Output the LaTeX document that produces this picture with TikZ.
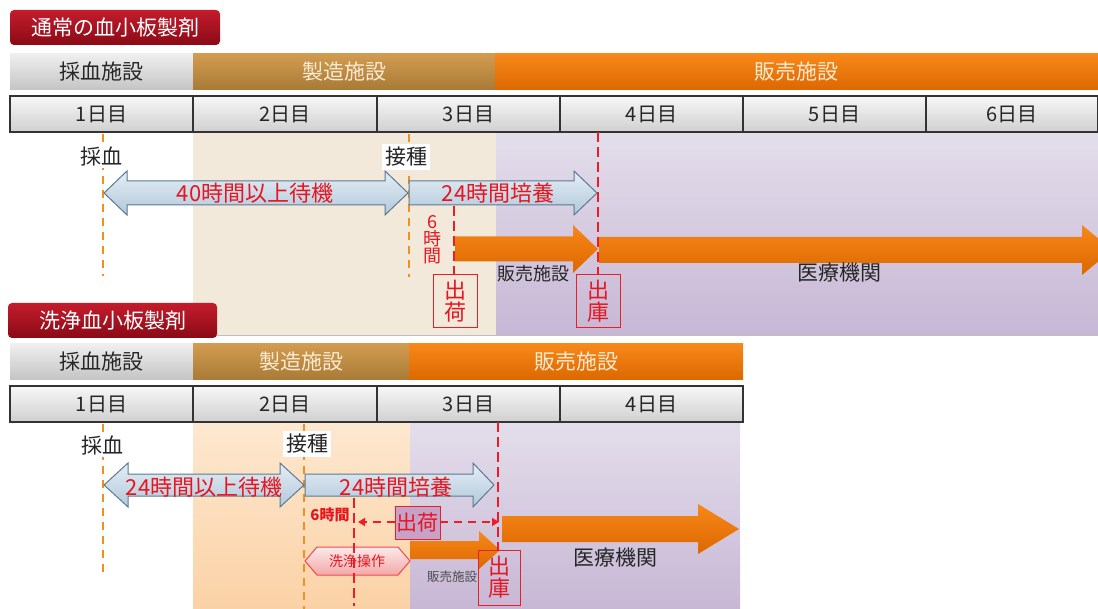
\documentclass[tikz,border=0pt]{standalone}
\usepackage{fontspec}
\setmainfont{Noto Sans CJK JP}
\usetikzlibrary{arrows.meta}
\definecolor{tred}{HTML}{E8141E}
\definecolor{dred}{HTML}{EE1C24}
\definecolor{odash}{HTML}{F0901E}
\definecolor{beigebg}{HTML}{F3E9DA}
\definecolor{peachT}{HTML}{FDE8D0}
\definecolor{peachB}{HTML}{FBD2A6}
\definecolor{purT}{HTML}{E4DEEB}
\definecolor{purB}{HTML}{C7B7D5}
\definecolor{blueT}{HTML}{E4EEF6}
\definecolor{blueB}{HTML}{B2C8DA}
\definecolor{blueE}{HTML}{5B7A92}
\definecolor{orT}{HTML}{F8881A}
\definecolor{orB}{HTML}{DC6800}
\definecolor{goldT}{HTML}{D29C50}
\definecolor{goldB}{HTML}{A87A36}
\definecolor{grayT}{HTML}{EFEFEF}
\definecolor{grayB}{HTML}{C4C4C4}
\definecolor{dayT}{HTML}{F7F7F7}
\definecolor{dayB}{HTML}{D0D0D0}
\definecolor{titT}{HTML}{C41C2C}
\definecolor{titB}{HTML}{8A0A16}
\definecolor{pinkT}{HTML}{FDEAEA}
\definecolor{pinkB}{HTML}{F2A8A8}
\definecolor{mauve}{HTML}{C6A2C8}
\definecolor{cream}{HTML}{FBEBD3}
\definecolor{ink}{HTML}{262626}
\newcommand\fs[1]{\fontsize{#1}{#1}\selectfont}
% box node by corners: name, style, x1, y1, x2, y2, text
\newcommand\bx[7]{\node[#2, minimum width={#5-#3}, minimum height={#6-#4}, inner sep=0pt, outer sep=0pt] (#1) at ({(#3+#5)/2},{(#4+#6)/2}) {#7};}
% right block arrow: x1, x2, yc, body half, head half, head length, style
\newcommand\RArrow[7]{\path[#7] (#1,{#3-#4}) -- ({#2-#6},{#3-#4}) -- ({#2-#6},{#3-#5}) -- (#2,#3) -- ({#2-#6},{#3+#5}) -- ({#2-#6},{#3+#4}) -- (#1,{#3+#4}) -- cycle;}
% double block arrow
\newcommand\DArrow[7]{\path[#7] ({#1+#6},{#3-#4}) -- ({#2-#6},{#3-#4}) -- ({#2-#6},{#3-#5}) -- (#2,#3) -- ({#2-#6},{#3+#5}) -- ({#2-#6},{#3+#4}) -- ({#1+#6},{#3+#4}) -- ({#1+#6},{#3+#5}) -- (#1,#3) -- ({#1+#6},{#3-#5}) -- cycle;}
\begin{document}
\begin{tikzpicture}[x=1pt,y=-1pt,
  titlebox/.style={rectangle, rounded corners=4pt, top color=titT, bottom color=titB, text=white, font=\fs{21}},
  facgray/.style={rectangle, top color=grayT, bottom color=grayB, text=ink, font=\fs{21}},
  facgold/.style={rectangle, top color=goldT, bottom color=goldB, text=cream, font=\fs{21}},
  facorange/.style={rectangle, top color=orT, bottom color=orB, text=cream, font=\fs{21}},
  daycell/.style={rectangle, draw=black!80, line width=1.2pt, top color=dayT, bottom color=dayB, text=ink, font=\fs{20}},
  barrow/.style={draw=blueE, line width=1pt, top color=blueT, bottom color=blueB},
  oarrow/.style={top color=orT, bottom color=orB},
  odashed/.style={draw=odash, line width=2.8pt, dash pattern=on 8pt off 6pt},
  rdashed/.style={draw=dred, line width=2.8pt, dash pattern=on 10pt off 5pt},
  redbox/.style={rectangle, draw=dred, line width=1pt, text=tred, align=center, font=\fs{22}},
  redtxt/.style={text=tred, font=\fs{22}, inner sep=0pt},
  lbl/.style={text=ink, font=\fs{21}, inner sep=1pt},
]
\useasboundingbox (0,0) rectangle (1098,609);
\clip (0,0) rectangle (1098,609);

%================ TOP: normal platelet ================
\fill[beigebg] (193,132) rectangle (496,335);
\shade[top color=purT, bottom color=purB] (496,132) rectangle (1098,335);
\draw[black!25, line width=0.8pt] (193,335) -- (1098,335);

\bx{tTitle}{titlebox}{10}{10}{220}{45}{通常の血小板製剤}
\bx{tFacA}{facgray}{10}{54}{193}{90}{採血施設}
\bx{tFacB}{facgold}{193}{54}{495}{90}{製造施設}
\bx{tFacC}{facorange}{495}{54}{1098}{90}{販売施設}
\bx{tD1}{daycell}{10}{96}{193}{132}{1日目}
\bx{tD2}{daycell}{193}{96}{377}{132}{2日目}
\bx{tD3}{daycell}{377}{96}{560}{132}{3日目}
\bx{tD4}{daycell}{560}{96}{743}{132}{4日目}
\bx{tD5}{daycell}{743}{96}{926}{132}{5日目}
\bx{tD6}{daycell}{926}{96}{1097.4}{132}{6日目}

\coordinate (tCollTop) at (103,134);
\coordinate (tCollBot) at (103,276);
\coordinate (tInocTop) at (409,134);
\coordinate (tInocBot) at (409,277);
\draw[odashed] (tCollTop) -- (tCollBot);
\draw[odashed] (tInocTop) -- (tInocBot);

\node[lbl, fill=white] (tColl) at (101,157) {採血};
\node[lbl, fill=white, inner sep=3pt] (tInoc) at (406,157) {接種};

\DArrow{104}{408}{193}{12}{22}{23}{barrow}
\RArrow{409}{597}{193}{12}{22}{23}{barrow}
\node[redtxt] (tWait) at (255,193) {40時間以上待機};
\node[redtxt] (tCult) at (498,193) {24時間培養};

\RArrow{455}{598}{249}{12.5}{24}{25}{oarrow}
\RArrow{599}{1112}{250}{13}{25}{30}{oarrow}

\node[redtxt, font=\fs{18}, align=center] (tSix) at (432,240) {6\\[-1pt]時\\[-1pt]間};
\node[lbl, font=\fs{18}] (tSales) at (533,274) {販売施設};
\node[lbl] (tMed) at (839,273) {医療機関};

\bx{tShip}{redbox}{433}{275}{477}{328}{出\\荷}
\bx{tOut}{redbox}{576}{275}{620}{328}{出\\庫}

\coordinate (tShipTop) at (454,206);
\coordinate (tOutTop) at (598,132);
\draw[rdashed] (tShipTop) -- (tShip.north -| tShipTop);
\draw[rdashed] (tOutTop) -- (tOut.north -| tOutTop);

%================ BOTTOM: washed platelet ================
\shade[top color=peachT, bottom color=peachB] (193,422) rectangle (410,609);
\shade[top color=purT, bottom color=purB] (410,422) rectangle (740,609);

\bx{bTitle}{titlebox}{8}{303}{217}{338}{洗浄血小板製剤}
\bx{bFacA}{facgray}{10}{344}{193}{380}{採血施設}
\bx{bFacB}{facgold}{193}{344}{409}{380}{製造施設}
\bx{bFacC}{facorange}{409}{344}{743}{380}{販売施設}
\bx{bD1}{daycell}{10}{386}{193}{422}{1日目}
\bx{bD2}{daycell}{193}{386}{377}{422}{2日目}
\bx{bD3}{daycell}{377}{386}{560}{422}{3日目}
\bx{bD4}{daycell}{560}{386}{743}{422}{4日目}

\coordinate (bCollTop) at (103,424);
\coordinate (bCollBot) at (103,574);
\coordinate (bInocTop) at (304,424);
\coordinate (bInocBot) at (304,609);
\draw[odashed] (bCollTop) -- (bCollBot);
\draw[odashed] (bInocTop) -- (bInocBot);

\node[lbl, fill=white] (bColl) at (102,446) {採血};
\node[lbl, fill=white, inner sep=3pt] (bInoc) at (307,444) {接種};

\DArrow{104}{304}{485}{11}{22}{24}{barrow}
\RArrow{305}{494}{485}{11}{22}{21}{barrow}
\node[redtxt] (bWait) at (204,487) {24時間以上待機};
\node[redtxt] (bCult) at (396,487) {24時間培養};

\RArrow{410}{500}{550}{9}{19}{21}{oarrow}
\RArrow{502}{739}{529}{13}{25}{41}{oarrow}

\path[draw=dred!80, line width=1pt, top color=pinkT, bottom color=pinkB]
  (305,561) -- (317,547) -- (398,547) -- (410,561) -- (398,575) -- (317,575) -- cycle;
\node[redtxt, font=\fs{14}] (bWash) at (357,561) {洗浄操作};

\node[redtxt, font=\bfseries\fs{15}] (bSix) at (330,515) {6時間};

\bx{bShip}{redbox, fill=mauve, font=\fs{21}}{395}{506}{440}{539}{出荷}
\bx{bOut}{redbox}{478}{550}{520}{605}{出\\庫}

\node[lbl, font=\fs{12.5}, text=black!70] (bSales) at (452,577) {販売施設};
\node[lbl] (bMed) at (615,558) {医療機関};

\coordinate (bShipLineTop) at (354,498);
\coordinate (bShipLineBot) at (354,606);
\coordinate (bOutTop) at (498,422);
\draw[rdashed] (bShipLineTop) -- (bShipLineBot);
\draw[rdashed] (bOutTop) -- (bOut.north -| bOutTop);

\coordinate (bLeftEnd) at (358,522);
\coordinate (bRightEnd) at (499,522);
\draw[rdashed, line width=2.4pt, dash pattern=on 8pt off 6pt, -{Triangle[length=7pt,width=8pt]}] (bShip.west |- bLeftEnd) -- (bLeftEnd);
\draw[rdashed, line width=2.4pt, dash pattern=on 8pt off 6pt, -{Triangle[length=7pt,width=8pt]}] (bShip.east |- bRightEnd) -- (bRightEnd);
\end{tikzpicture}
\end{document}
